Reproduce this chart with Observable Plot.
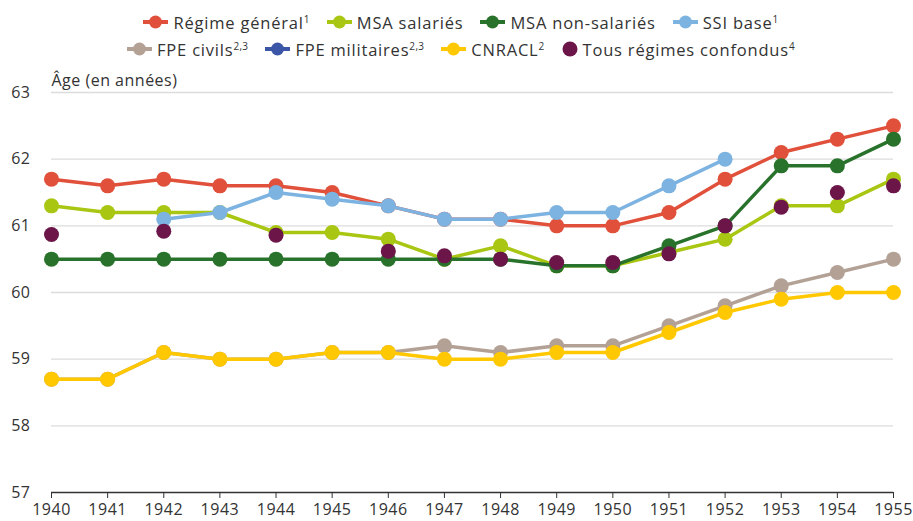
<!DOCTYPE html>
<html>
<head>
<meta charset="utf-8">
<script src="https://cdn.jsdelivr.net/npm/d3@7"></script>
<script src="https://cdn.jsdelivr.net/npm/@observablehq/plot@0.6"></script>
<style>
  body { margin: 0; background: #fff; font-family: "Open Sans", "Noto Sans", sans-serif; color: #333; }
  #legend { width: 913px; height: 60px; position: relative; font-size: 16.5px; letter-spacing: 0.8px; }
  .row { position: absolute; left: 0; width: 913px; height: 24px; display: flex; justify-content: center; align-items: center; gap: 17px; padding-left: 9px; box-sizing: border-box; }
  .item { display: flex; align-items: center; gap: 5px; white-space: nowrap; }
  sup { font-size: 10px; vertical-align: 6px; line-height: 0; letter-spacing: 0.3px; }
</style>
</head>
<body>
<div id="legend"></div>
<div id="chart"></div>
<script>
const years = [1940, 1941, 1942, 1943, 1944, 1945, 1946, 1947, 1948, 1949, 1950, 1951, 1952, 1953, 1954, 1955];
const regimeGeneral = [61.7, 61.6, 61.7, 61.6, 61.6, 61.5, 61.3, 61.1, 61.1, 61.0, 61.0, 61.2, 61.7, 62.1, 62.3, 62.5];
const msaSalaries = [61.3, 61.2, 61.2, 61.2, 60.9, 60.9, 60.8, 60.5, 60.7, 60.4, 60.4, 60.6, 60.8, 61.3, 61.3, 61.7];
const msaNonSalaries = [60.5, 60.5, 60.5, 60.5, 60.5, 60.5, 60.5, 60.5, 60.5, 60.4, 60.4, 60.7, 61.0, 61.9, 61.9, 62.3];
const ssiBase = [null, null, 61.1, 61.2, 61.5, 61.4, 61.3, 61.1, 61.1, 61.2, 61.2, 61.6, 62.0, null, null, null];
const fpeCivils = [58.7, 58.7, 59.1, 59.0, 59.0, 59.1, 59.1, 59.2, 59.1, 59.2, 59.2, 59.5, 59.8, 60.1, 60.3, 60.5];
const fpeMilitaires = [null, null, null, null, null, null, null, null, null, null, null, null, null, null, null, null];
const cnracl = [58.7, 58.7, 59.1, 59.0, 59.0, 59.1, 59.1, 59.0, 59.0, 59.1, 59.1, 59.4, 59.7, 59.9, 60.0, 60.0];
const tousRegimes = [60.87, null, 60.92, null, 60.86, null, 60.62, 60.55, 60.5, 60.45, 60.45, 60.58, 61.0, 61.28, 61.5, 61.6];
const yTicks = [57, 58, 59, 60, 61, 62, 63];
const yLabel = "Âge (en années)";

const series = [
  { name: "Régime général", sup: "1", values: regimeGeneral, color: "#E0503A", line: true, row: 0 },
  { name: "MSA salariés", sup: "", values: msaSalaries, color: "#A9C612", line: true, row: 0 },
  { name: "MSA non-salariés", sup: "", values: msaNonSalaries, color: "#28722B", line: true, row: 0 },
  { name: "SSI base", sup: "1", values: ssiBase, color: "#7DB3E1", line: true, row: 0 },
  { name: "FPE civils", sup: "2,3", values: fpeCivils, color: "#B3A196", line: true, row: 1 },
  { name: "FPE militaires", sup: "2,3", values: fpeMilitaires, color: "#3B56A6", line: true, row: 1 },
  { name: "CNRACL", sup: "2", values: cnracl, color: "#FFC800", line: true, row: 1 },
  { name: "Tous régimes confondus", sup: "4", values: tousRegimes, color: "#6B1549", line: false, row: 1 }
];

// Legend
const legend = document.getElementById("legend");
[0, 1].forEach(r => {
  const row = document.createElement("div");
  row.className = "row";
  row.style.top = (r === 0 ? 10 : 37) + "px";
  series.filter(s => s.row === r).forEach(s => {
    const it = document.createElement("div");
    it.className = "item";
    const sw = s.line
      ? `<svg width="25" height="16"><line x1="0" x2="25" y1="8" y2="8" stroke="${s.color}" stroke-width="4"/><circle cx="12.5" cy="8" r="6.5" fill="${s.color}"/></svg>`
      : `<svg width="16" height="16"><circle cx="8" cy="8" r="7.5" fill="${s.color}"/></svg>`;
    it.innerHTML = sw + `<span>${s.name}${s.sup ? `<sup>${s.sup}</sup>` : ""}</span>`;
    row.appendChild(it);
  });
  legend.appendChild(row);
});

const marks = [
  Plot.gridY(yTicks.filter(d => d !== 57), { stroke: "#dcdcdc", strokeOpacity: 1, strokeWidth: 1.3 }),
  Plot.ruleY([57], { stroke: "#333", strokeWidth: 1.3 }),
  Plot.axisY({ ticks: yTicks, tickFormat: d => String(d), tickSize: 0, tickPadding: 21, fontSize: 16, label: null }),
  Plot.axisX({ ticks: years, tickFormat: d => String(d), tickSize: 6, tickPadding: 5, fontSize: 16, stroke: "#333", label: null }),
  Plot.text([yLabel], { frameAnchor: "top-left", textAnchor: "start", lineAnchor: "bottom", dy: -7, dx: 0, fontSize: 16, fill: "#333" })
];

series.forEach(s => {
  const data = years.map((y, i) => ({ year: y, value: s.values[i] })).filter(d => d.value != null);
  if (s.line) {
    marks.push(Plot.line(data, { x: "year", y: "value", stroke: s.color, strokeWidth: 3.5, curve: "linear" }));
  }
  marks.push(Plot.dot(data, { x: "year", y: "value", fill: s.color, r: 7.5, stroke: "none" }));
});

const chart = Plot.plot({
  width: 913,
  height: 461,
  marginLeft: 51,
  marginRight: 20,
  marginTop: 32,
  marginBottom: 29,
  style: { fontFamily: "'Open Sans', 'Noto Sans', sans-serif", fontSize: "16px", letterSpacing: "0.5px", color: "#333", background: "#fff", overflow: "visible" },
  x: { domain: [1940, 1955], axis: null },
  y: { domain: [57, 63], axis: null },
  marks
});
document.getElementById("chart").appendChild(chart);
</script>
</body>
</html>
